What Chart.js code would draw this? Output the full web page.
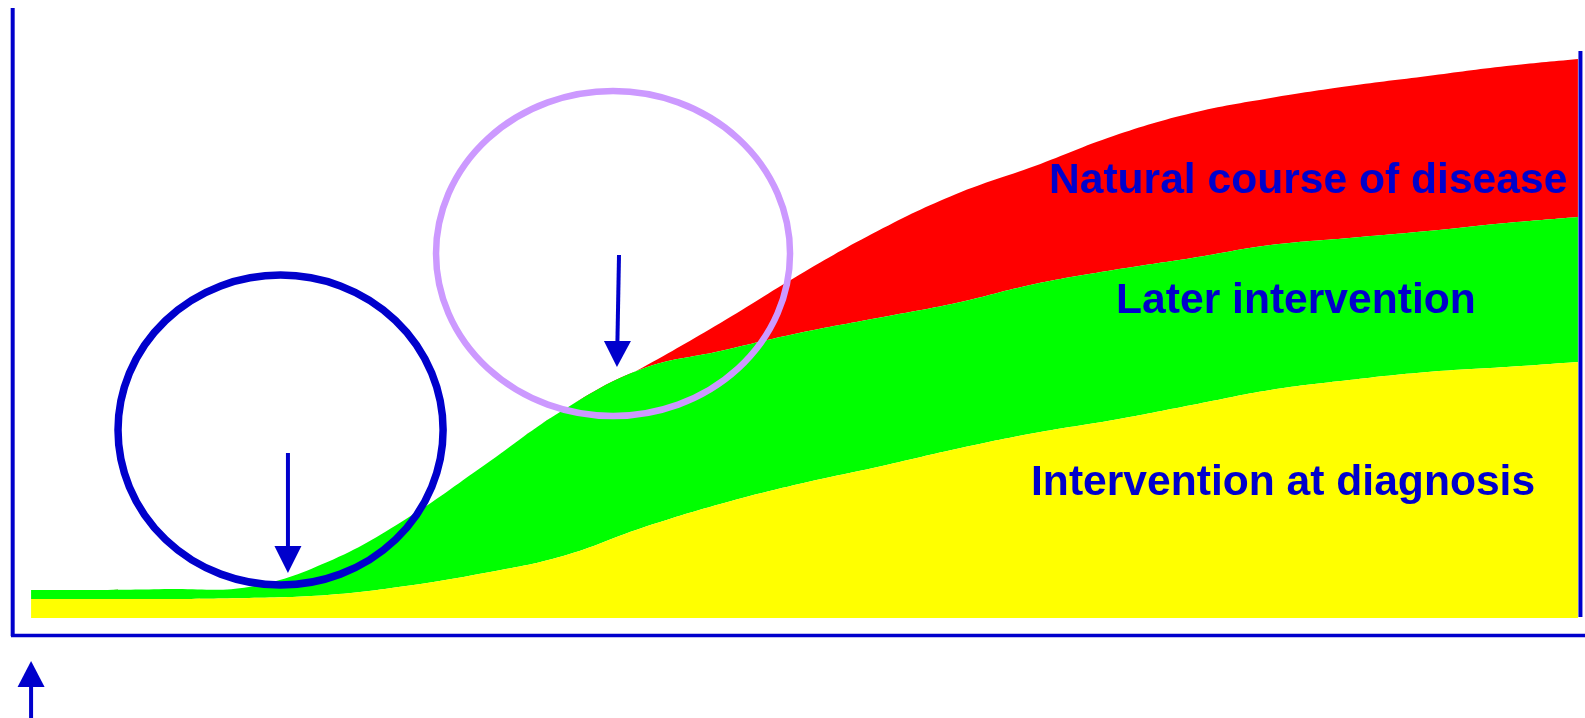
<!DOCTYPE html>
<html>
<head>
<meta charset="utf-8">
<script src="https://cdn.jsdelivr.net/npm/chart.js@4.4.1/dist/chart.umd.min.js"></script>
<style>
  html, body { margin: 0; padding: 0; background: #ffffff; }
  #wrap { width: 1585px; height: 718px; }
</style>
</head>
<body>
<div id="wrap"><canvas id="c" width="1585" height="718"></canvas></div>
<script>
// ---- Data (time on x, disease burden on y; arbitrary 0-100 units) ----
const timePoints = [1.15, 5, 10, 15, 20, 25, 30, 35, 40, 45, 50, 55, 60, 65, 70, 75, 80, 85, 90, 95, 99.55];
const interventionAtDiagnosis = [5.89, 5.89, 5.89, 6.05, 6.53, 7.96, 10.03, 12.74, 17.20, 21.02, 24.20, 26.91, 29.78, 32.32, 34.39, 36.78, 39.17, 40.76, 42.04, 42.83, 43.63];
const laterIntervention = [7.32, 7.32, 7.48, 7.80, 11.78, 18.63, 27.23, 35.99, 42.52, 45.38, 48.25, 50.64, 53.03, 56.05, 58.28, 60.19, 62.26, 63.38, 64.49, 65.76, 66.72];
const naturalCourse = [7.32, 7.32, 7.48, 7.80, 11.78, 18.63, 27.23, 35.99, 42.68, 49.84, 57.48, 64.49, 70.38, 74.84, 79.62, 83.28, 85.67, 87.58, 89.17, 90.76, 91.88];
const BASELINE = 2.87;
const seriesLabels = ["Intervention at diagnosis", "Later intervention", "Natural course of disease"];

const toPts = arr => arr.map((v, i) => ({ x: timePoints[i], y: v }));

// ---- Annotations (in axis units) ----
const labelSpots = [
  { text: seriesLabels[2], x: 65.90, y: 70.54 },
  { text: seriesLabels[1], x: 70.17, y: 51.43 },
  { text: seriesLabels[0], x: 64.76, y: 22.45 }
];
const ellipses = [
  { cx: 17.02, cy: 32.80, rx: 10.34, ry: 24.68, color: '#0000CC', width: 7.5 },
  { cx: 38.17, cy: 60.91, rx: 11.26, ry: 25.88, color: '#CC99FF', width: 6.5 }
];
const arrows = [
  { x1: 17.49, y1: 29.14, x2: 17.49, y2: 10.03, base: 14.33 },
  { x1: 38.55, y1: 60.67, x2: 38.42, y2: 42.84, base: 46.97 },
  { x1: 1.15, y1: -13.06, x2: 1.15, y2: -3.98, base: -8.12 }
];

const BLUE = '#0000CC';

const decorPlugin = {
  id: 'decor',
  afterDatasetsDraw(chart) {
    const { ctx, scales: { x, y } } = chart;
    const px = v => x.getPixelForValue(v);
    const py = v => y.getPixelForValue(v);
    ctx.save();
    // axes frame
    ctx.strokeStyle = BLUE;
    ctx.lineCap = 'butt';
    ctx.lineWidth = 4;
    ctx.beginPath(); ctx.moveTo(px(-0.02), py(100)); ctx.lineTo(px(-0.02), py(0)); ctx.stroke();
    ctx.lineWidth = 3.5;
    ctx.beginPath(); ctx.moveTo(px(-0.13), py(0.08)); ctx.lineTo(px(100), py(0.08)); ctx.stroke();
    ctx.lineWidth = 4;
    ctx.beginPath(); ctx.moveTo(px(99.71), py(93.15)); ctx.lineTo(px(99.71), py(3.03)); ctx.stroke();

    // ellipses
    ellipses.forEach(e => {
      ctx.strokeStyle = e.color;
      ctx.lineWidth = e.width;
      ctx.beginPath();
      const cx = px(e.cx), cy = py(e.cy);
      const rx = px(e.cx + e.rx) - cx, ry = cy - py(e.cy + e.ry);
      ctx.ellipse(cx, cy, rx, ry, 0, 0, Math.PI * 2);
      ctx.stroke();
    });

    // arrows
    arrows.forEach(a => {
      const x1 = px(a.x1), y1 = py(a.y1), x2 = px(a.x2), y2 = py(a.y2), yb = py(a.base);
      const t = (yb - y1) / (y2 - y1);
      const xb = x1 + (x2 - x1) * t;
      ctx.strokeStyle = BLUE;
      ctx.fillStyle = BLUE;
      ctx.lineWidth = 4;
      ctx.beginPath(); ctx.moveTo(x1, y1); ctx.lineTo(xb, yb); ctx.stroke();
      const hw = 13.5;
      ctx.beginPath();
      ctx.moveTo(xb - hw, yb); ctx.lineTo(xb + hw, yb); ctx.lineTo(x2, y2); ctx.closePath();
      ctx.fill();
    });

    // labels
    ctx.fillStyle = BLUE;
    ctx.font = "bold 42.6px 'Liberation Sans', Arial, sans-serif";
    ctx.textAlign = 'left';
    ctx.textBaseline = 'alphabetic';
    labelSpots.forEach(l => ctx.fillText(l.text, px(l.x), py(l.y)));
    ctx.restore();
  }
};

new Chart(document.getElementById('c'), {
  type: 'line',
  data: {
    datasets: [
      { label: seriesLabels[0], data: toPts(interventionAtDiagnosis), backgroundColor: '#FFFF00', borderWidth: 0, pointRadius: 0, fill: { value: BASELINE }, tension: 0.4 },
      { label: seriesLabels[1], data: toPts(laterIntervention), backgroundColor: '#00FF00', borderWidth: 0, pointRadius: 0, fill: '-1', tension: 0.4 },
      { label: seriesLabels[2], data: toPts(naturalCourse), backgroundColor: '#FF0000', borderWidth: 0, pointRadius: 0, fill: '-1', tension: 0.4 }
    ]
  },
  options: {
    responsive: false,
    devicePixelRatio: 1,
    animation: false,
    layout: { padding: { left: 13, top: 8, right: 0, bottom: 82 } },
    scales: {
      x: { type: 'linear', min: 0, max: 100, display: false },
      y: { type: 'linear', min: 0, max: 100, display: false }
    },
    plugins: { legend: { display: false }, tooltip: { enabled: false } }
  },
  plugins: [decorPlugin]
});
</script>
</body>
</html>
